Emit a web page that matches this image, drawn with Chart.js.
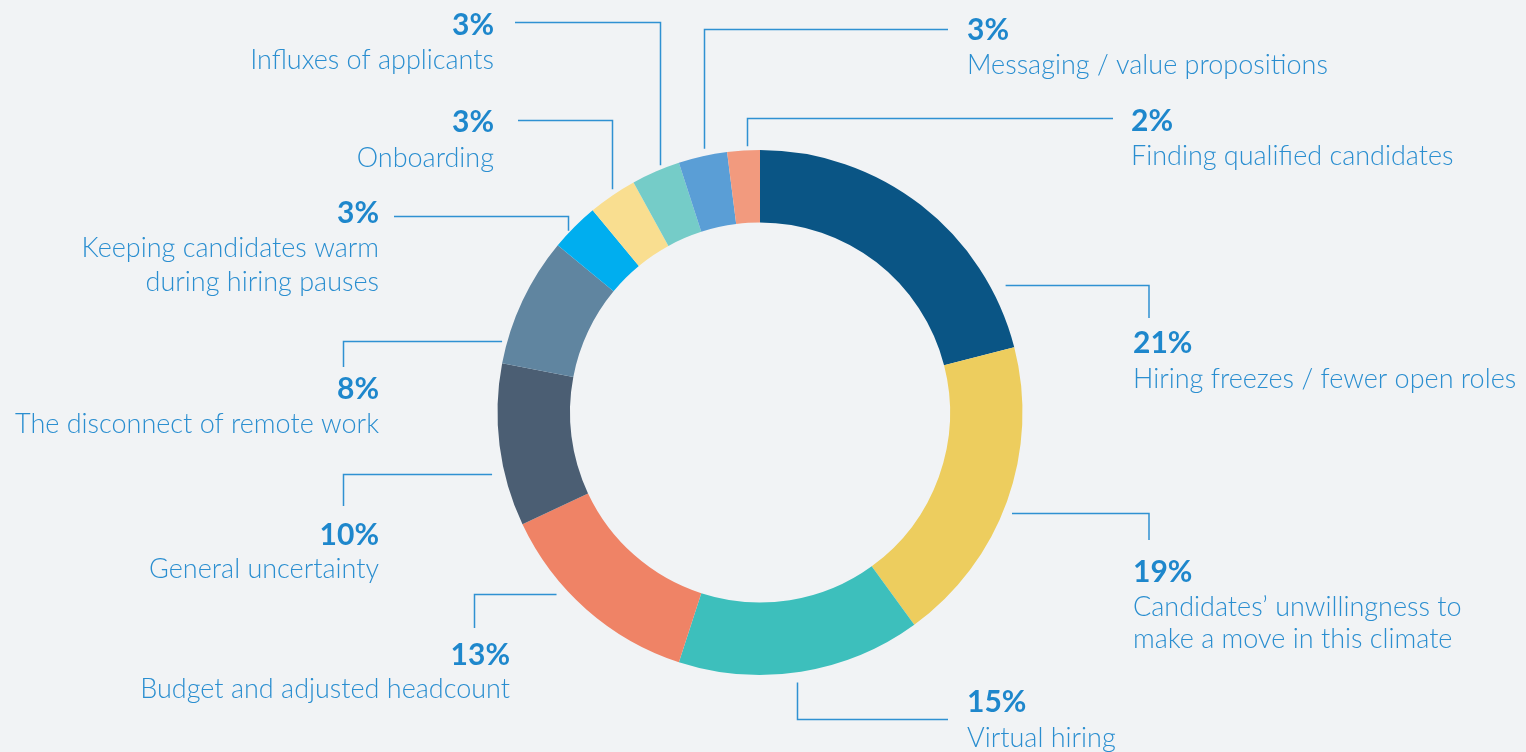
<!DOCTYPE html>
<html>
<head>
<meta charset="utf-8">
<script src="https://cdn.jsdelivr.net/npm/chart.js@4/dist/chart.umd.min.js"></script>
<style>
  html, body { margin: 0; padding: 0; background: #F1F3F5; }
  #wrap { width: 1526px; height: 752px; }
</style>
</head>
<body>
<div id="wrap"><canvas id="c" width="1526" height="752"></canvas></div>
<script>
// ---- data ----
const categories = [
  "Hiring freezes / fewer open roles",
  "Candidates\u2019 unwillingness to\nmake a move in this climate",
  "Virtual hiring",
  "Budget and adjusted headcount",
  "General uncertainty",
  "The disconnect of remote work",
  "Keeping candidates warm\nduring hiring pauses",
  "Onboarding",
  "Influxes of applicants",
  "Messaging / value propositions",
  "Finding qualified candidates"
];
const values = [21, 19, 15, 13, 10, 8, 3, 3, 3, 3, 2];
const colors = [
  "#0A5585", "#EDCD5E", "#3DBFBC", "#EF8366", "#4B5E73", "#6085A0",
  "#00AEEF", "#F9DE90", "#75CCC8", "#5A9ED6", "#F29A7E"
];

// ---- label / leader layout (annotation positions only) ----
// kind 'h': leader leaves ring horizontally at y, goes to elbow x, then vertical to end y
// kind 'v': leader leaves ring vertically at x, goes to elbow y, then horizontal to end x
const labelLayout = [
  {kind:'h', side: 1, at:285.5, gap:14,  elbow:1149, end:318, align:'left',  tx:1133, pct:353, lines:[388]},
  {kind:'h', side: 1, at:513.5, gap:9,   elbow:1149, end:540, align:'left',  tx:1133, pct:582, lines:[616, 648]},
  {kind:'v', side: 1, at:797.5, gap:10,  elbow:719.5, end:948, align:'left', tx:967,  pct:712, lines:[747]},
  {kind:'h', side:-1, at:594.5, gap:10.5,elbow:474.5, end:628, align:'right', tx:510, pct:665, lines:[698]},
  {kind:'h', side:-1, at:474.5, gap:12.5,elbow:343.5, end:506, align:'right', tx:379, pct:545, lines:[578]},
  {kind:'h', side:-1, at:341.5, gap:5,   elbow:343.5, end:367, align:'right', tx:379, pct:399, lines:[433]},
  {kind:'v', side:-1, at:568.5, gap:1.5, elbow:216.5, end:394, align:'right', tx:379, pct:223, lines:[257, 291]},
  {kind:'v', side:-1, at:612.5, gap:5,   elbow:120.5, end:518, align:'right', tx:494, pct:132, lines:[167]},
  {kind:'v', side:-1, at:660.5, gap:4,   elbow:22.5,  end:515, align:'right', tx:494, pct:35,  lines:[69]},
  {kind:'v', side:-1, at:704.5, gap:7,   elbow:29.5,  end:948, align:'left',  tx:967, pct:40,  lines:[74]},
  {kind:'v', side:-1, at:747.5, gap:4,   elbow:118.5, end:1113,align:'left',  tx:1131,pct:131, lines:[165]}
];

const TEXT_COLOR = "#2A8ED0";
const PCT_COLOR = "#1E87CC";
const LINE_COLOR = "#2F91D2";

const leaderPlugin = {
  id: 'leaders',
  afterDatasetsDraw(chart) {
    const meta = chart.getDatasetMeta(0);
    const a0 = meta.data[0];
    const cx = a0.x, cy = a0.y, R = a0.outerRadius;
    const ctx = chart.ctx;
    ctx.save();
    ctx.strokeStyle = LINE_COLOR;
    ctx.lineWidth = 1.5;
    labelLayout.forEach((L, i) => {
      const r = R + L.gap;
      ctx.beginPath();
      if (L.kind === 'h') {
        const dy = L.at - cy;
        const sx = cx + L.side * Math.sqrt(Math.max(r * r - dy * dy, 0));
        ctx.moveTo(sx, L.at);
        ctx.lineTo(L.elbow, L.at);
        ctx.lineTo(L.elbow, L.end);
      } else {
        const dx = L.at - cx;
        const sy = cy + L.side * Math.sqrt(Math.max(r * r - dx * dx, 0));
        ctx.moveTo(L.at, sy);
        ctx.lineTo(L.at, L.elbow);
        ctx.lineTo(L.end, L.elbow);
      }
      ctx.stroke();

      ctx.textAlign = L.align;
      ctx.textBaseline = 'alphabetic';
      ctx.fillStyle = PCT_COLOR;
      ctx.font = "bold 30px Lato, 'Open Sans', sans-serif";
      ctx.fillText(values[i] + "%", L.tx, L.pct);
      ctx.fillStyle = TEXT_COLOR;
      ctx.font = "300 27px Lato, 'Open Sans', sans-serif";
      const parts = categories[i].split("\n");
      parts.forEach((p, k) => ctx.fillText(p, L.tx, L.lines[k]));
    });
    ctx.restore();
  }
};

new Chart(document.getElementById('c'), {
  type: 'doughnut',
  data: {
    labels: categories,
    datasets: [{
      data: values,
      backgroundColor: colors,
      borderWidth: 0,
      hoverOffset: 0
    }]
  },
  options: {
    responsive: false,
    animation: false,
    cutout: '72.4%',
    layout: { padding: { top: 150, bottom: 77, left: 0, right: 6 } },
    plugins: {
      legend: { display: false },
      tooltip: { enabled: false }
    }
  },
  plugins: [leaderPlugin]
});
</script>
</body>
</html>
